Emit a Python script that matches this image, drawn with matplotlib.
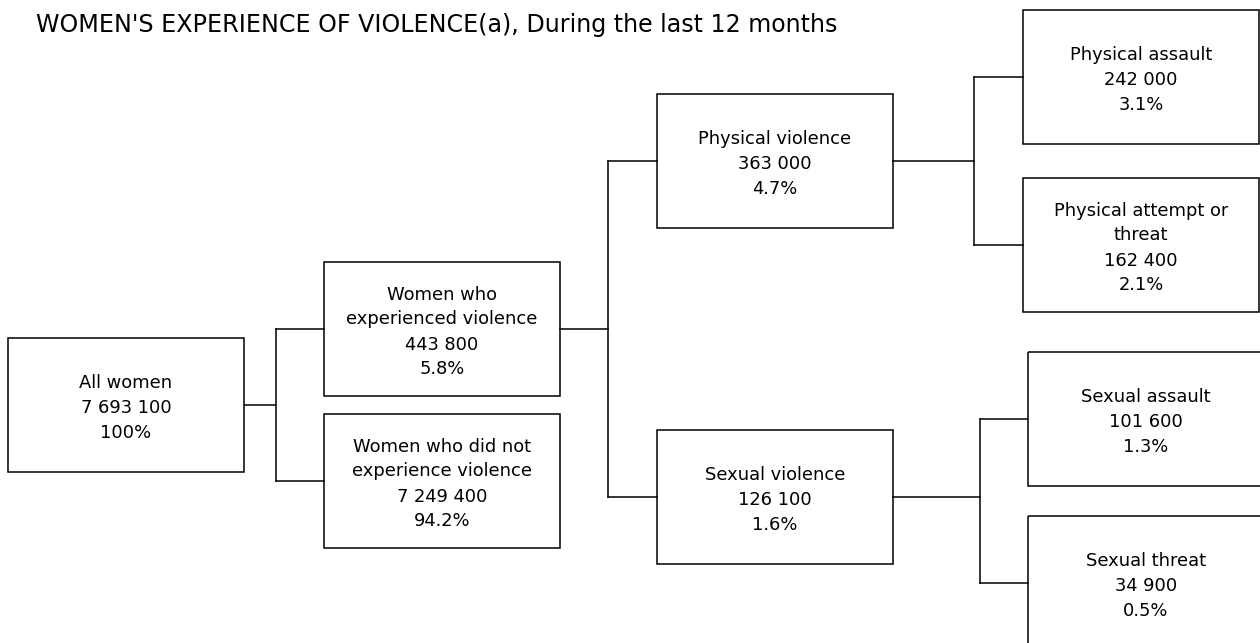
import matplotlib
matplotlib.use('Agg')
import matplotlib.pyplot as plt
from matplotlib.patches import Rectangle

title = "WOMEN'S EXPERIENCE OF VIOLENCE(a), During the last 12 months"

# tree nodes
names = ['All women', 'Women who\nexperienced violence', 'Women who did not\nexperience violence',
         'Physical violence', 'Sexual violence',
         'Physical assault', 'Physical attempt or\nthreat', 'Sexual assault', 'Sexual threat']
counts = ['7 693 100', '443 800', '7 249 400', '363 000', '126 100',
          '242 000', '162 400', '101 600', '34 900']
percents = ['100%', '5.8%', '94.2%', '4.7%', '1.6%', '3.1%', '2.1%', '1.3%', '0.5%']
parents = [None, 0, 0, 1, 1, 3, 3, 4, 4]

# layout in pixels (y down): box left edge and vertical centre
box_w, box_h = 236, 134
left_x = [8, 324, 324, 657, 657, 1023, 1023, 1028, 1028]
mid_y = [405, 329, 481, 161, 497, 77, 245, 419, 583]
bus_x = {0: 276, 1: 608, 3: 974, 4: 980}

fig = plt.figure(figsize=(12.6, 6.43), dpi=100)
ax = fig.add_axes([0, 0, 1, 1])
ax.set_xlim(0, 1260)
ax.set_ylim(643, 0)
ax.axis('off')

lw = 1.1
for i in range(len(names)):
    ax.add_patch(Rectangle((left_x[i], mid_y[i] - box_h / 2), box_w, box_h, fill=False,
                           edgecolor='black', linewidth=lw))
    ax.text(left_x[i] + box_w / 2, mid_y[i] + 3, names[i] + '\n' + counts[i] + '\n' + percents[i],
            ha='center', va='center', fontsize=12.9, linespacing=1.5, color='black')

# connectors: parent -> bus -> children
for p, bx in bus_x.items():
    kids = [i for i, q in enumerate(parents) if q == p]
    ax.plot([left_x[p] + box_w, bx], [mid_y[p], mid_y[p]], color='black', lw=lw)
    ys = [mid_y[k] for k in kids]
    ax.plot([bx, bx], [min(ys), max(ys)], color='black', lw=lw)
    for k in kids:
        ax.plot([bx, left_x[k]], [mid_y[k], mid_y[k]], color='black', lw=lw)

ax.text(36, 32, title, ha='left', va='baseline', fontsize=17.1, color='black')

fig.savefig('out.png', dpi=100)
